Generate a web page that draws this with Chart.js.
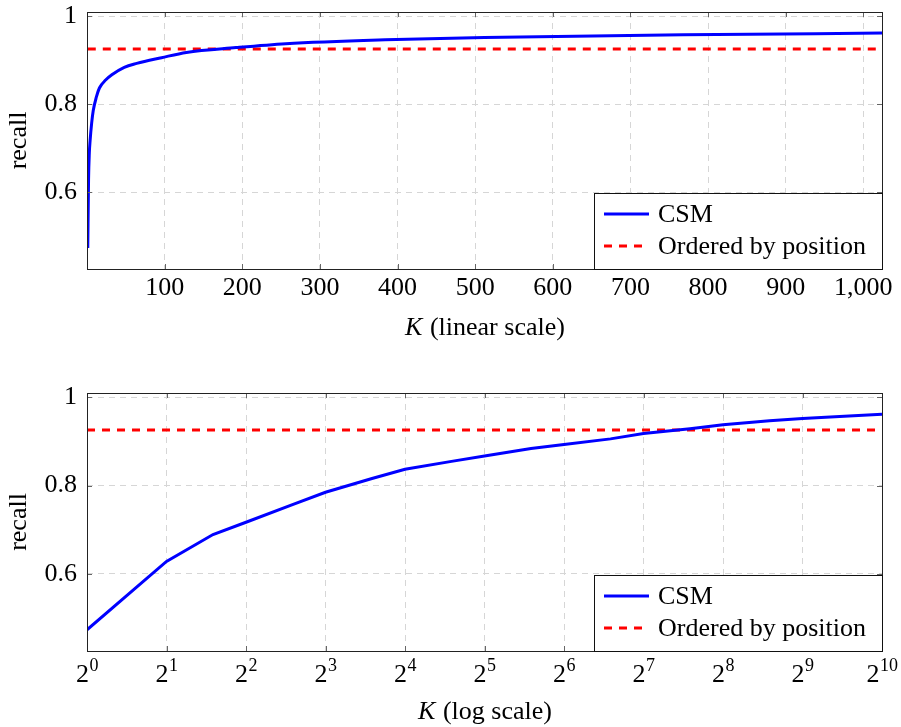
<!DOCTYPE html>
<html>
<head>
<meta charset="utf-8">
<script src="https://cdn.jsdelivr.net/npm/chart.js@4/dist/chart.umd.min.js"></script>
<style>
  body { margin: 0; background: #fff; }
  .wrap { position: absolute; left: 0; width: 901px; }
</style>
</head>
<body>
<div class="wrap" style="top:0;height:360px"><canvas id="linearChart" width="901" height="360"></canvas></div>
<div class="wrap" style="top:360px;height:367px"><canvas id="logChart" width="901" height="367"></canvas></div>
<script>
// CSM recall against K
const kValues = [1, 2, 3, 4, 6, 8, 12, 16, 24, 32, 48, 64, 96, 128, 192, 256, 384, 512, 768, 1024];
const csmRecall = [0.473, 0.628, 0.689, 0.717, 0.757, 0.785, 0.816, 0.837, 0.855, 0.867, 0.884, 0.893, 0.906, 0.918, 0.929, 0.938, 0.947, 0.952, 0.958, 0.962];

// baseline: ordered by position (flat)
const orderedK = [1, 1024];
const orderedRecall = [0.926, 0.926];

const yTicks = [0.6, 0.8, 1];
const linearTicks = [100, 200, 300, 400, 500, 600, 700, 800, 900, 1000];
const logTicks = [1, 2, 4, 8, 16, 32, 64, 128, 256, 512, 1024];
const logExponents = ['0', '1', '2', '3', '4', '5', '6', '7', '8', '9', '10'];

const legendLabels = ['CSM', 'Ordered by position'];
const xTitles = { linearChart: ' (linear scale)', logChart: ' (log scale)' };

const serif = "'Liberation Serif', 'DejaVu Serif', serif";
const font = { family: serif, size: 26 };

const toPoints = (xs, ys) => xs.map((x, i) => ({ x: x, y: ys[i] }));

// frame with small inner tick marks, like pgfplots
const framePlugin = {
  id: 'frame',
  afterDatasetsDraw(chart) {
    const { ctx, chartArea: a, scales } = chart;
    ctx.save();
    ctx.strokeStyle = '#666';
    ctx.lineWidth = 1;
    ctx.beginPath();
    scales.x.ticks.forEach(t => {
      const px = Math.round(scales.x.getPixelForValue(t.value)) + 0.5;
      ctx.moveTo(px, a.bottom); ctx.lineTo(px, a.bottom - 5);
      ctx.moveTo(px, a.top); ctx.lineTo(px, a.top + 5);
    });
    scales.y.ticks.forEach(t => {
      const py = Math.round(scales.y.getPixelForValue(t.value)) + 0.5;
      ctx.moveTo(a.left, py); ctx.lineTo(a.left + 5, py);
      ctx.moveTo(a.right, py); ctx.lineTo(a.right - 5, py);
    });
    ctx.stroke();
    ctx.strokeStyle = '#222';
    ctx.strokeRect(Math.round(a.left) + 0.5, Math.round(a.top) + 0.5,
      Math.round(a.right - a.left), Math.round(a.bottom - a.top));
    ctx.restore();
  }
};

// legend box in the lower right corner of the plot
const boxLegend = {
  id: 'boxLegend',
  afterDraw(chart) {
    const { ctx, chartArea: a } = chart;
    const w = 288, h = 76;
    const x0 = a.right - w, y0 = a.bottom - h;
    ctx.save();
    ctx.fillStyle = '#fff';
    ctx.fillRect(x0, y0, w, h);
    ctx.strokeStyle = '#111';
    ctx.lineWidth = 1;
    ctx.strokeRect(Math.round(x0) + 0.5, Math.round(y0) + 0.5, w, h);
    ctx.font = '26px ' + serif;
    ctx.textBaseline = 'middle';
    chart.data.datasets.forEach((ds, i) => {
      const cy = y0 + 21 + i * 32;
      ctx.strokeStyle = ds.borderColor;
      ctx.lineWidth = ds.borderWidth;
      ctx.setLineDash(ds.borderDash || []);
      ctx.beginPath();
      ctx.moveTo(x0 + 10, cy);
      ctx.lineTo(x0 + 55, cy);
      ctx.stroke();
      ctx.setLineDash([]);
      ctx.fillStyle = '#000';
      ctx.fillText(legendLabels[i], x0 + 64, cy + 1);
    });
    ctx.restore();
  }
};

// x axis title with an italic K
const xTitle = {
  id: 'xTitle',
  afterDraw(chart, args, opts) {
    const { ctx, chartArea: a } = chart;
    const rest = xTitles[chart.canvas.id];
    ctx.save();
    ctx.fillStyle = '#000';
    ctx.textBaseline = 'middle';
    ctx.font = 'italic 26px ' + serif;
    const wK = ctx.measureText('K').width;
    ctx.font = '26px ' + serif;
    const wR = ctx.measureText(rest).width;
    let x = (a.left + a.right) / 2 - (wK + wR) / 2;
    ctx.font = 'italic 26px ' + serif;
    ctx.fillText('K', x, opts.y);
    ctx.font = '26px ' + serif;
    ctx.fillText(rest, x + wK + 1, opts.y);
    ctx.restore();
  }
};

// powers of two with real raised exponents
const powerLabels = {
  id: 'powerLabels',
  afterDraw(chart) {
    if (chart.canvas.id !== 'logChart') return;
    const { ctx, chartArea: a, scales } = chart;
    ctx.save();
    ctx.fillStyle = '#000';
    ctx.textBaseline = 'alphabetic';
    const baseY = a.bottom + 31;
    logTicks.forEach((v, i) => {
      const px = scales.x.getPixelForValue(v);
      ctx.font = '26px ' + serif;
      const wb = ctx.measureText('2').width;
      ctx.font = '18px ' + serif;
      const we = ctx.measureText(logExponents[i]).width;
      const x = px - (wb + we) / 2;
      ctx.font = '26px ' + serif;
      ctx.fillText('2', x, baseY);
      ctx.font = '18px ' + serif;
      ctx.fillText(logExponents[i], x + wb + 0.5, baseY - 11);
    });
    ctx.restore();
  }
};

function makeDatasets(smooth) {
  return [
    {
      label: legendLabels[0],
      data: toPoints(kValues, csmRecall),
      borderColor: '#0000ff',
      borderWidth: 3,
      pointRadius: 0,
      cubicInterpolationMode: smooth ? 'monotone' : 'default',
      tension: 0
    },
    {
      label: legendLabels[1],
      data: toPoints(orderedK, orderedRecall),
      borderColor: '#ff0000',
      borderWidth: 3,
      borderDash: [8, 7],
      pointRadius: 0
    }
  ];
}

function yScale() {
  return {
    type: 'linear',
    min: 0.425,
    max: 1.01,
    afterBuildTicks: s => { s.ticks = yTicks.map(v => ({ value: v })); },
    afterFit: s => { s.width = 87; s.paddingTop = 0; s.paddingBottom = 0; },
    ticks: {
      font: font,
      color: '#000',
      padding: 10,
      callback: v => (v === 1 ? '1' : v.toFixed(1))
    },
    grid: { color: '#d6d6d6', drawTicks: false },
    border: { display: false, dash: [6, 5] },
    title: { display: true, text: 'recall', font: font, color: '#000', padding: { top: 4, bottom: 0 } }
  };
}

const baseOptions = {
  responsive: false,
  animation: false,
  events: []
};

new Chart(document.getElementById('linearChart'), {
  type: 'line',
  data: { datasets: makeDatasets(true) },
  options: Object.assign({}, baseOptions, {
    layout: { padding: { top: 12, right: 19, left: 0, bottom: 0 } },
    plugins: { legend: { display: false }, tooltip: { enabled: false }, xTitle: { y: 328 } },
    scales: {
      x: {
        type: 'linear',
        min: 0,
        max: 1024,
        afterBuildTicks: s => { s.ticks = linearTicks.map(v => ({ value: v })); },
        afterFit: s => { s.height = 91; s.paddingLeft = 0; s.paddingRight = 0; },
        ticks: {
          font: font,
          color: '#000',
          padding: 4,
          maxRotation: 0,
          autoSkip: false,
          callback: v => v.toLocaleString('en-US')
        },
        grid: { color: '#d6d6d6', drawTicks: false },
        border: { display: false, dash: [6, 5] }
      },
      y: yScale()
    }
  }),
  plugins: [framePlugin, boxLegend, xTitle]
});

new Chart(document.getElementById('logChart'), {
  type: 'line',
  data: { datasets: makeDatasets(false) },
  options: Object.assign({}, baseOptions, {
    layout: { padding: { top: 33, right: 19, left: 0, bottom: 0 } },
    plugins: { legend: { display: false }, tooltip: { enabled: false }, xTitle: { y: 352 } },
    scales: {
      x: {
        type: 'logarithmic',
        min: 1,
        max: 1024,
        afterBuildTicks: s => { s.ticks = logTicks.map(v => ({ value: v })); },
        afterFit: s => { s.height = 76; s.paddingLeft = 0; s.paddingRight = 0; },
        ticks: { display: false, autoSkip: false },
        grid: { color: '#d6d6d6', drawTicks: false },
        border: { display: false, dash: [6, 5] }
      },
      y: yScale()
    }
  }),
  plugins: [framePlugin, boxLegend, xTitle, powerLabels]
});
</script>
</body>
</html>
